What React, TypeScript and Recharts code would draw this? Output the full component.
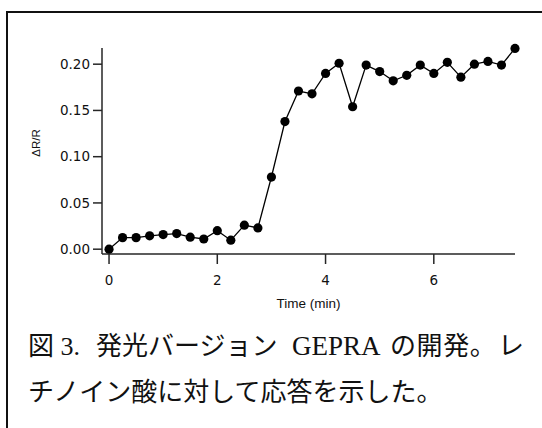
import React from 'react';
import { LineChart, Line, XAxis, YAxis } from 'recharts';

const timeMin = [
  0, 0.25, 0.5, 0.75, 1.0, 1.25, 1.5, 1.75, 2.0, 2.25, 2.5, 2.75, 3.0, 3.25, 3.5, 3.75,
  4.0, 4.25, 4.5, 4.75, 5.0, 5.25, 5.5, 5.75, 6.0, 6.25, 6.5, 6.75, 7.0, 7.25, 7.5,
];
const deltaRR = [
  0.0, 0.0125, 0.0125, 0.0144, 0.0158, 0.0169, 0.013, 0.011, 0.02, 0.0097, 0.026, 0.023,
  0.078, 0.138, 0.171, 0.168, 0.19, 0.201, 0.154, 0.199, 0.192, 0.182, 0.188, 0.199,
  0.19, 0.202, 0.186, 0.2, 0.203, 0.199, 0.217,
];
const xTicks = [0, 2, 4, 6];
const yTicks = [0, 0.05, 0.1, 0.15, 0.2];
const xLabel = 'Time (min)';
const yLabel = 'ΔR/R';
const captionLine1a = '図 3.';
const captionLine1b = '発光バージョン';
const captionLine1c = 'GEPRA';
const captionLine1d = 'の開発。';
const captionLine1e = 'レ';
const captionLine2 = 'チノイン酸に対して応答を示した。';

const data = timeMin.map((t, i) => ({ t, v: deltaRR[i] }));

const axisColor = '#262626';
const tickFont = { fill: '#111', fontSize: 13.5, fontFamily: 'DejaVu Sans' };

const YLabel = (props: any) => {
  const vb = props.viewBox || { x: 42, y: 48, width: 60, height: 206 };
  const cx = vb.x - 6;
  const cy = vb.y + vb.height / 2 - 8;
  return (
    <text
      x={cx}
      y={cy}
      transform={`rotate(-90 ${cx} ${cy})`}
      textAnchor="middle"
      dominantBaseline="central"
      fontSize={11.5}
      fontFamily="Liberation Sans"
      fill="#111"
    >
      {yLabel}
    </text>
  );
};

export default function App() {
  return (
    <div
      style={{
        position: 'absolute',
        left: 0,
        top: 0,
        width: 542,
        height: 428,
        overflow: 'hidden',
        background: '#fff',
      }}
    >
      <div
        style={{
          position: 'absolute',
          left: 6,
          top: 11,
          width: 700,
          height: 600,
          border: '2px solid #111',
          boxSizing: 'border-box',
        }}
      />
      <div style={{ position: 'absolute', left: 0, top: 0 }}>
        <LineChart
          width={542}
          height={320}
          data={data}
          margin={{ top: 48, right: 27, bottom: 6, left: 42 }}
        >
          <XAxis
            type="number"
            dataKey="t"
            domain={[-0.13, 7.5]}
            ticks={xTicks}
            height={60}
            tickSize={10}
            tickMargin={11}
            stroke={axisColor}
            strokeWidth={1.5}
            tick={tickFont}
            label={{
              value: xLabel,
              position: 'insideBottom',
              offset: 6,
              fill: '#111',
              fontSize: 13.5,
              fontFamily: 'Liberation Sans',
            }}
          />
          <YAxis
            type="number"
            domain={[-0.0052, 0.2175]}
            ticks={yTicks}
            width={60}
            tickSize={9}
            tickMargin={3}
            stroke={axisColor}
            strokeWidth={1.5}
            tick={tickFont}
            tickFormatter={(v: number) => v.toFixed(2)}
            label={<YLabel />}
          />
          <Line
            type="linear"
            dataKey="v"
            stroke="#000"
            strokeWidth={1.3}
            dot={{ r: 4.6, fill: '#000', stroke: '#000', strokeWidth: 0 }}
            activeDot={false}
            isAnimationActive={false}
          />
        </LineChart>
      </div>
      <svg
        width={542}
        height={428}
        style={{ position: 'absolute', left: 0, top: 0, pointerEvents: 'none' }}
      >
        <text
          fontSize={26}
          fontFamily="'Liberation Serif', 'Noto Sans CJK JP'"
          fill="#111"
        >
          <tspan x={28} y={355}>{captionLine1a}</tspan>
          <tspan x={96} y={355} fontFamily="'Noto Sans CJK JP'">{captionLine1b}</tspan>
          <tspan x={292} y={355} fontSize={27}>{captionLine1c}</tspan>
          <tspan x={390} y={355} fontFamily="'Noto Sans CJK JP'" letterSpacing={0.6}>{captionLine1d}</tspan>
          <tspan x={498} y={355} fontFamily="'Noto Sans CJK JP'">{captionLine1e}</tspan>
        </text>
        <text
          x={28}
          y={401}
          fontSize={26}
          fontFamily="'Noto Sans CJK JP'"
          fill="#111"
        >
          {captionLine2}
        </text>
      </svg>
    </div>
  );
}
